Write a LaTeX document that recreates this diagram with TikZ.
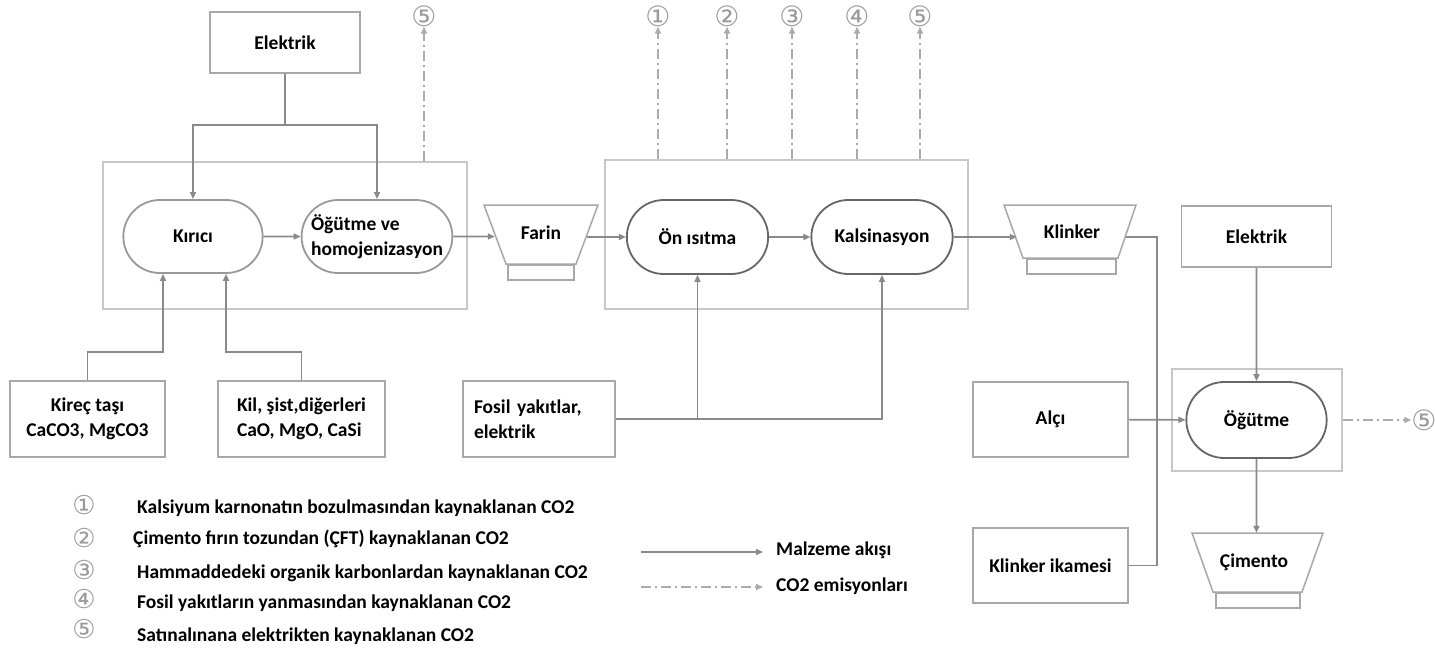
\documentclass[tikz,border=0pt]{standalone}
\usepackage{fontspec}
\setmainfont{Carlito}
\newfontfamily\circfont{DejaVu Sans}
\usetikzlibrary{shapes.misc,arrows.meta,calc}
\definecolor{boxgray}{HTML}{A8A8A8}
\definecolor{procgray}{HTML}{666666}
\definecolor{proclight}{HTML}{999999}
\definecolor{grpgray}{HTML}{C8C8C8}
\definecolor{linegray}{HTML}{8A8A8A}
\definecolor{emisgray}{HTML}{ABABAB}
\definecolor{numgray}{HTML}{9A9A9A}
\newcommand\lblfont{\fontsize{19.5}{25}\selectfont\bfseries}
\newcommand\notefont{\fontsize{19.5}{22}\selectfont\bfseries}

\begin{document}
\begin{tikzpicture}[x=1pt,y=-1pt,
    box/.style={draw=boxgray,line width=1.5pt,fill=white,font=\lblfont},
    proc/.style={rounded rectangle,draw=procgray,line width=1.8pt,fill=white,font=\lblfont},
    silo/.style={inner sep=0pt,font=\lblfont},
    siloline/.style={draw=boxgray,line width=1.5pt,fill=white},
    silobase/.style={siloline,minimum height=15pt,inner sep=0pt,anchor=north west},
    group/.style={draw=grpgray,line width=1.3pt},
    link/.style={draw=linegray,line width=1.6pt},
    flow/.style={link,-{Triangle[length=7pt,width=6pt]}},
    emis/.style={draw=emisgray,line width=1.6pt,dash pattern=on 10pt off 4pt on 2pt off 4pt,
      -{Triangle[length=7pt,width=6pt]}},
    num/.style={font=\circfont\fontsize{28}{28}\selectfont,text=numgray,inner sep=0pt},
    legnum/.style={num,font=\circfont\fontsize{26}{26}\selectfont},
    note/.style={anchor=west,font=\notefont,inner sep=0pt}]
  \useasboundingbox (0,0) rectangle (1435,651);

  \node[group,minimum width=364pt,minimum height=147pt] (g1) at (285,235.5) {};
  \node[group,minimum width=363pt,minimum height=149pt] (g2) at (786.5,234.5) {};
  \node[group,minimum width=170pt,minimum height=102pt] (g3) at (1257,420) {};

  \node[box,minimum width=150pt,minimum height=61pt] (elek1) at (285,42.5) {Elektrik};
  \node[proc,draw=proclight,minimum width=146pt,minimum height=73pt] (kirici) at (193,236.5) {Kırıcı};
  \node[proc,draw=proclight,minimum width=144pt,minimum height=73pt,align=left,inner sep=2pt] (ogut) at (377,236.5) {Öğütme ve\\homojenizasyon};
  \node[box,minimum width=155pt,minimum height=76pt,align=center] (kirec) at (87.5,419) {Kireç taşı\\CaCO3, MgCO3};
  \node[box,minimum width=167pt,minimum height=76pt,align=left] (kil) at (301.5,419) {Kil, şist,diğerleri\\CaO, MgO, CaSi};
  \node[box,minimum width=152pt,minimum height=76pt,align=left,text width=130pt] (fosil) at (539,419) {Fosil yakıtlar,\\elektrik};

  \draw[siloline] (484,205) -- (598,205) -- (576,264) -- (506,264) -- cycle;
  \node[silo,minimum width=114pt,minimum height=59pt] (farin) at (541,233) {Farin};
  \node[silobase,minimum width=66pt] (farinb) at (507,264) {};
  \node[proc,minimum width=148pt,minimum height=74pt] (onis) at (697.5,237) {Ön ısıtma};
  \node[proc,minimum width=148pt,minimum height=74pt] (kals) at (882,237) {Kalsinasyon};
  \draw[siloline] (1004,205) -- (1136,205) -- (1118,258) -- (1023,258) -- cycle;
  \node[silo,minimum width=132pt,minimum height=53pt] (klink) at (1072,231.5) {Klinker};
  \node[silobase,minimum width=89pt] (klinkb) at (1026,258) {};

  \node[box,minimum width=150pt,minimum height=61pt] (elek2) at (1256.5,236.5) {Elektrik};
  \node[box,minimum width=155pt,minimum height=75pt] (alci) at (1050.5,419.5) {Alçı};
  \node[box,minimum width=155pt,minimum height=75pt] (ikame) at (1050.5,565.5) {Klinker ikamesi};
  \node[proc,minimum width=147pt,minimum height=76pt] (ogut2) at (1256.5,420) {Öğütme};
  \draw[siloline] (1192,533) -- (1323,533) -- (1302,592) -- (1213,592) -- cycle;
  \node[silo,minimum width=131pt,minimum height=59pt] (cim) at (1254,562.5) {Çimento};
  \node[silobase,minimum width=84pt] (cimb) at (1215,592) {};

  \node[num] (e0) at (424,16) {⑤};
  \node[num] (e1) at (658,16) {①};
  \node[num] (e2) at (727,16) {②};
  \node[num] (e3) at (792,16) {③};
  \node[num] (e4) at (857,16) {④};
  \node[num] (e5) at (920,16) {⑤};
  \node[num] (e6) at (1424,420) {⑤};

  \coordinate (j1) at (285,125);
  \coordinate (j2) at (163,352);
  \coordinate (j3) at (226,352);
  \coordinate (j4) at (1157,237);

  \draw[link] (elek1) -- (j1);
  \draw[flow] (j1) -| (kirici);
  \draw[flow] (j1) -| (ogut);
  \draw[flow] (kirec) |- (j2) -- (kirici.south -| j2);
  \draw[flow] (kil) |- (j3) -- (kirici.south -| j3);
  \draw[flow] (kirici) -- (ogut);
  \draw[flow] (ogut) -- ($(farin.west |- ogut)+(11,0)$);
  \draw[flow] ($(farin.east |- onis)+(-11,0)$) -- (onis);
  \draw[flow] (onis) -- (kals);
  \draw[flow] (kals.east) -- ($(kals.east -| klink.west)+(11,0)$);
  \draw[flow] (fosil.east) -| (kals.south);
  \draw[flow] (fosil.east -| onis.south) -- (onis.south);
  \draw[link] ($(j4 -| klink.east)+(-12,0)$) -- (j4) |- (ikame.east);
  \draw[flow] (alci) -- (ogut2);
  \draw[flow] (elek2) -- (ogut2);
  \draw[flow] (ogut2) -- (ogut2 |- cim.north);

  \draw[emis] (g1.north -| e0) -- (e0.south);
  \foreach \i in {1,...,5}
    \draw[emis] (g2.north -| e\i) -- (e\i.south);
  \draw[emis] (g3.east) -- (e6.west);

  \node[legnum] (n1) at (84,505) {①};
  \node[legnum] (n2) at (84,538) {②};
  \node[legnum] (n3) at (84,570) {③};
  \node[legnum] (n4) at (84,599) {④};
  \node[legnum] (n5) at (84,629) {⑤};
  \node[note] (t1) at (137,508) {Kalsiyum karnonatın bozulmasından kaynaklanan CO2};
  \node[note] (t2) at (133,539) {Çimento fırın tozundan (ÇFT) kaynaklanan CO2};
  \node[note] (t3) at (137,573) {Hammaddedeki organik karbonlardan kaynaklanan CO2};
  \node[note] (t4) at (137,603) {Fosil yakıtların yanmasından kaynaklanan CO2};
  \node[note] (t5) at (137,636) {Satınalınana elektrikten kaynaklanan CO2};

  \coordinate (l1) at (641,552);
  \coordinate (l2) at (763,552);
  \coordinate (l3) at (641,587);
  \coordinate (l4) at (763,587);
  \draw[flow] (l1) -- (l2);
  \draw[emis] (l3) -- (l4);
  \node[note] (m1) at (776,550) {Malzeme akışı};
  \node[note] (m2) at (776,586) {CO2 emisyonları};
\end{tikzpicture}
\end{document}
